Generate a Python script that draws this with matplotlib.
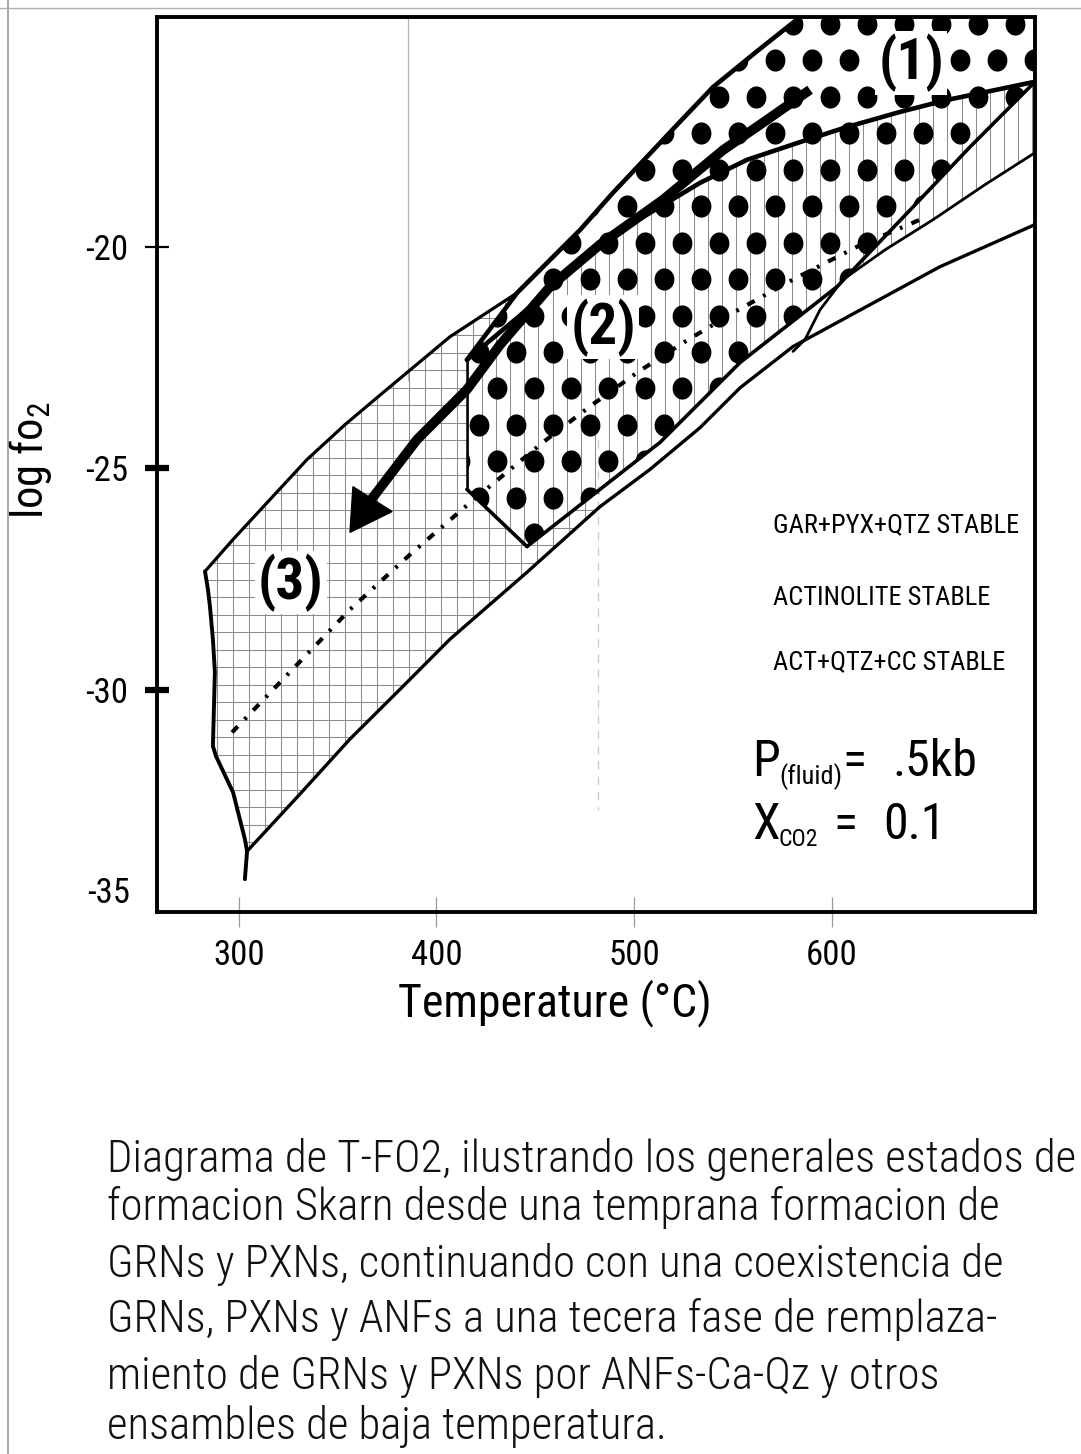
import numpy as np
import matplotlib
matplotlib.use("Agg")
import matplotlib.pyplot as plt
from matplotlib import font_manager
from matplotlib.patches import Polygon
from matplotlib.lines import Line2D
from matplotlib.collections import LineCollection
from matplotlib.path import Path

# ---------------- data (T in degC, log fO2) ----------------
x_ticks = [300, 400, 500, 600]
x_tick_labels = ["300", "400", "500", "600"]
y_ticks = [-20, -25, -30]
y_tick_labels = ["-20", "-25", "-30"]

upper3_T = [282.8, 297.0, 315.7, 334.4, 353.7, 372.9, 406.8, 440.8]
upper3_Y = [-27.32, -26.60, -25.70, -24.80, -24.01, -23.29, -22.03, -21.04]
upper1_T = [415.4, 440.8, 456.5, 472.7, 489.4, 506.6, 523.3, 540.0, 562.3, 584.1, 589.1]
upper1_Y = [-22.55, -21.04, -20.34, -19.62, -18.78, -17.97, -17.18, -16.40, -15.59, -14.82, -14.64]
sep12_T = [415.4, 442.3, 472.7, 492.9, 513.2, 533.4, 557.2, 584.1, 607.8, 634.7, 658.5, 680.3, 703.0]
sep12_Y = [-22.55, -21.55, -20.36, -19.64, -19.10, -18.56, -18.04, -17.64, -17.30, -16.96, -16.69, -16.49, -16.28]
left2_T = [415.4, 415.4, 445.8]
left2_Y = [-22.55, -25.47, -26.76]
lower2_T = [445.8, 482.8, 513.2, 553.7, 602.8, 622.0, 641.3, 670.1, 703.0]
lower2_Y = [-26.76, -25.47, -24.41, -22.61, -20.90, -20.00, -19.10, -17.75, -16.28]
actlow_T = [703.0, 677.7, 651.4, 627.1, 605.8, 594.2, 586.6, 580.5]
actlow_Y = [-17.88, -18.60, -19.39, -20.07, -20.74, -21.42, -22.09, -22.36]
lower3_T = [304.1, 330.9, 356.2, 381.5, 406.8, 445.8, 482.8, 508.1, 533.4, 553.7, 580.5, 609.4, 654.9, 703.0]
lower3_Y = [-33.63, -32.34, -31.10, -29.98, -28.85, -27.34, -25.86, -25.02, -24.08, -23.18, -22.25, -21.55, -20.45, -19.50]
left3_T = [282.8, 284.3, 285.3, 286.8, 287.8, 287.3, 286.8, 288.4, 297.0, 303.0, 304.1, 303.0]
left3_Y = [-27.32, -27.73, -28.11, -28.85, -29.59, -30.43, -31.26, -31.49, -32.30, -33.36, -33.63, -34.26]
path_T = [296.5, 325.8, 356.2, 386.6, 417.0, 453.9, 477.7, 501.5, 525.8, 550.1, 580.5, 612.9, 644.8]
path_Y = [-30.95, -29.59, -28.18, -26.94, -25.77, -24.41, -23.60, -22.84, -22.14, -21.49, -20.74, -20.00, -19.39]
arrow_T = [589.1, 567.3, 545.1, 514.7, 482.8, 457.5, 432.2, 415.4, 390.1, 367.3]
arrow_Y = [-16.46, -17.14, -17.82, -18.94, -19.95, -20.90, -22.21, -23.22, -24.35, -25.68]
head_T = [356.2, 357.7, 377.5]
head_Y = [-26.44, -25.41, -25.97]

field_labels = ["(1)", "(2)", "(3)"]
field_T = [640.3, 484.3, 326.3]
field_Y = [-15.85, -21.82, -27.57]
stable_labels = ["GAR+PYX+QTZ STABLE", "ACTINOLITE STABLE", "ACT+QTZ+CC STABLE"]
caption_lines = [
    "Diagrama de T-FO2, ilustrando los generales estados de",
    "formacion Skarn desde una temprana formacion de",
    "GRNs y PXNs, continuando con una coexistencia de",
    "GRNs, PXNs y ANFs a una tecera fase de remplaza-",
    "miento de GRNs y PXNs por ANFs-Ca-Qz y otros",
    "ensambles de baja temperatura.",
]

# ---------------- fonts ----------------
avail = {f.name for f in font_manager.fontManager.ttflist}
def pick(names):
    for n in names:
        if n in avail:
            return n
    return "DejaVu Sans"
NARROW = pick(["Liberation Sans Narrow", "Roboto Condensed", "DejaVu Sans Condensed",
               "Open Sans Condensed", "Liberation Sans"])
plt.rcParams["font.family"] = [NARROW, "DejaVu Sans"]
plt.rcParams["mathtext.fontset"] = "custom"
plt.rcParams["mathtext.rm"] = NARROW
plt.rcParams["lines.scale_dashes"] = False

W, H = 1081, 1454
fig = plt.figure(figsize=(W / 100, H / 100), dpi=100)
L, R, T, B = 157, 1035, 17, 912
ax = fig.add_axes([L / W, 1 - B / H, (R - L) / W, (B - T) / H])
XL, YL = (258.5, 703.0), (-35.0, -14.82)
ax.set_xlim(*XL)
ax.set_ylim(*YL)

# page borders
fig.add_artist(Line2D([8 / W, 8 / W], [0, 1], transform=fig.transFigure, color="#9a9a9a", lw=1.2))
fig.add_artist(Line2D([0, 1], [1 - 8 / H] * 2, transform=fig.transFigure, color="#b0b0b0", lw=1.0))

# faint background guide lines
ax.plot([385.6, 385.6], [-14.82, -23.0], color="#b5b5b5", lw=0.9, zorder=0.5)
ax.plot([481.8, 481.8], [-24.35, -32.7], color="#c8c8c8", lw=0.9, ls=(0, (6, 5)), zorder=0.5)

def P(Ts, Ys):
    return np.column_stack([Ts, Ys])

def inside(v):
    v = np.array(v, dtype=float)
    v[:, 0] = np.clip(v[:, 0], *XL)
    v[:, 1] = np.clip(v[:, 1], *YL)
    return v

# polygons
D_poly = inside(np.vstack([[[415.4, -25.47]], P(upper1_T, upper1_Y), [[720, -14.0], [720, -16.28]],
                           P(lower2_T, lower2_Y)[::-1]]))
V_poly = inside(np.vstack([P(sep12_T, sep12_Y), [[703.0, -16.28]], P(actlow_T[:5], actlow_Y[:5]),
                           P(lower2_T[:5], lower2_Y[:5])[::-1], [[415.4, -25.47]]]))
G_poly = inside(np.vstack([P(upper3_T, upper3_Y), [[415.4, -22.55], [415.4, -25.47], [445.8, -26.76], [482.8, -25.47]],
                           P(lower3_T[:7], lower3_Y[:7])[::-1], P(left3_T[:11], left3_Y[:11])[::-1]]))

def clip_patch(verts):
    p = Polygon(verts, closed=True, facecolor="none", edgecolor="none")
    ax.add_patch(p)
    return p

Gp = clip_patch(G_poly)
Vp = clip_patch(V_poly)
Dp = clip_patch(D_poly)

# grid texture for field (3)
gx = np.arange(288.9 - 8.1 * 3, 500, 8.1)
gy = np.arange(-27.12 - 0.394 * 20, -20, 0.394)
segs = [[(x, -36), (x, -14)] for x in gx] + [[(250, y), (710, y)] for y in gy]
lc = LineCollection(segs, colors="#8c8c8c", linewidths=0.75, zorder=1)
ax.add_collection(lc)
lc.set_clip_path(Gp)

# vertical texture (actinolite field)
vx = np.arange(558.7 - 7.14 * 22, 710, 7.14)
lc2 = LineCollection([[(x, -36), (x, -14)] for x in vx], colors="#8c8c8c", linewidths=0.75, zorder=1.2)
ax.add_collection(lc2)
lc2.set_clip_path(Vp)

# dot texture for fields (1) and (2)
th = np.linspace(0, 2 * np.pi, 40)
ell = Path(np.column_stack([np.cos(th), 1.12 * np.sin(th)]), closed=True)
T0, Y0, dT, dY = 580.5, -16.62, 18.73, 0.822
pts = []
for k in range(-4, 16):
    for m in range(-14, 10):
        pts.append((T0 + m * dT + (dT / 2 if k % 2 else 0), Y0 - k * dY))
pts = np.array(pts)
sc = ax.scatter(pts[:, 0], pts[:, 1], s=255, c="black", marker=ell, linewidths=0, zorder=2)
sc.set_clip_path(Dp)

# boundaries
kw = dict(color="black", solid_capstyle="round", solid_joinstyle="round", zorder=3)
ax.plot(upper3_T, upper3_Y, lw=2.3, **kw)
ax.plot(upper1_T, upper1_Y, lw=3.3, **kw)
ax.plot(sep12_T, sep12_Y, lw=3.3, **kw)
ax.plot(left2_T[:2], left2_Y[:2], lw=1.8, **kw)
ax.plot(left2_T[1:], left2_Y[1:], lw=2.6, **kw)
ax.plot(lower2_T, lower2_Y, lw=2.6, **kw)
ax.plot(actlow_T, actlow_Y, lw=2.0, **kw)
ax.plot(lower3_T, lower3_Y, lw=2.4, **kw)
ax.plot(left3_T, left3_Y, lw=2.8, **kw)

# dashed path
ax.plot(path_T, path_Y, color="black", lw=3.0, dashes=(6, 7, 2, 7), zorder=3.5)

# arrow
ax.plot(arrow_T, arrow_Y, color="black", lw=7, solid_capstyle="butt", solid_joinstyle="round", zorder=4)
ax.add_patch(Polygon(P(head_T, head_Y), closed=True, facecolor="black", edgecolor="black", lw=1, zorder=4))

# field labels
for lab, tx, ty in zip(field_labels, field_T, field_Y):
    ax.text(tx, ty, lab, fontsize=41, fontweight="bold", ha="center", va="center", zorder=5,
            bbox=dict(boxstyle="square,pad=0.05", facecolor="white", edgecolor="none"))

for lab, ty in zip(stable_labels, [-26.28, -27.91, -29.37]):
    ax.text(570.4, ty, lab, fontsize=19, ha="left", va="center", zorder=5)

ax.text(559.7, -31.94, "P", fontsize=36, ha="left", va="baseline", zorder=5)
ax.text(573.6, -32.12, "(fluid)", fontsize=19, ha="left", va="baseline", zorder=5)
ax.text(605.3, -31.94, "=", fontsize=36, ha="left", va="baseline", zorder=5)
ax.text(631.1, -31.94, ".5kb", fontsize=36, ha="left", va="baseline", zorder=5)
ax.text(559.7, -33.36, "X", fontsize=36, ha="left", va="baseline", zorder=5)
ax.text(572.9, -33.51, "CO2", fontsize=17, ha="left", va="baseline", zorder=5)
ax.text(600.8, -33.36, "=", fontsize=36, ha="left", va="baseline", zorder=5)
ax.text(626.0, -33.36, "0.1", fontsize=36, ha="left", va="baseline", zorder=5)

# axes styling
for s in ax.spines.values():
    s.set_linewidth(2.8)
    s.set_color("black")
ax.set_xticks(x_ticks)
ax.set_xticklabels(x_tick_labels, fontsize=25)
ax.set_yticks(y_ticks)
ax.set_yticklabels(y_tick_labels, fontsize=25)
ax.tick_params(axis="x", direction="inout", length=21, width=0.9, color="#9a9a9a", pad=9)
ax.tick_params(axis="y", direction="inout", length=17, width=1.6, color="black", pad=12)
for i, t in enumerate(ax.yaxis.get_major_ticks()):
    if i > 0:
        t.tick1line.set_markeredgewidth(4.5)
ax.text(-0.031, 0.021, "-35", transform=ax.transAxes, fontsize=25, ha="right", va="center")

ax.set_xlabel("Temperature (°C)", fontsize=33)
ax.xaxis.set_label_coords((555 - L) / (R - L), (B - 1003) / (B - T))
ax.xaxis.label.set_va("center")
ax.set_ylabel(r"log fo$_{\mathregular{2}}$", fontsize=32)
ax.yaxis.set_label_coords((31 - L) / (R - L), (B - 460) / (B - T))
ax.yaxis.label.set_va("center")

# caption
cap_base = [1172, 1220, 1277, 1332, 1389, 1439]
for line, yb in zip(caption_lines, cap_base):
    fig.text(107 / W, 1 - yb / H, line, fontsize=32.2, fontweight="light", ha="left", va="baseline",
             color="#111111")

fig.savefig("out.png", dpi=100)
